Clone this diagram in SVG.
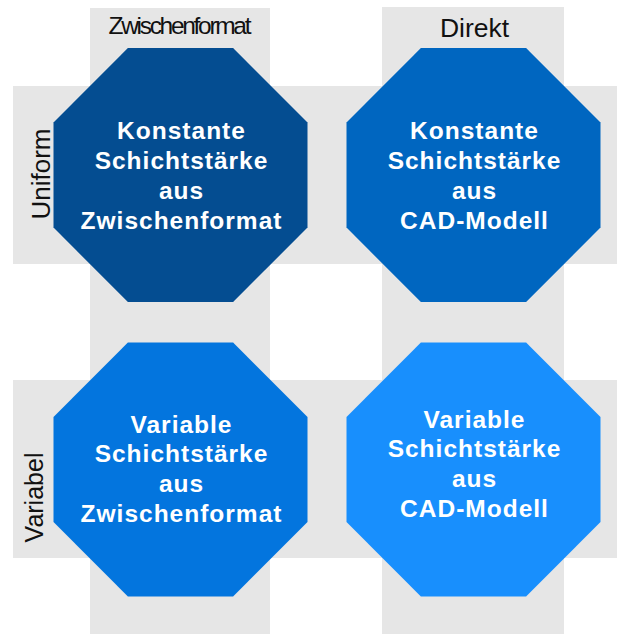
<svg xmlns="http://www.w3.org/2000/svg" width="617" height="634" viewBox="0 0 617 634">
<style>
.bg{fill:#e6e6e6}
.lbl{font-family:"Liberation Sans",Arial,sans-serif;fill:#111;text-anchor:middle}
.nt{font-family:"Liberation Sans",Arial,sans-serif;font-weight:bold;font-size:24.5px;letter-spacing:1px;fill:#fff;text-anchor:middle}
</style>
<defs>
<polygon id="oct" points="-52.6,-127 52.6,-127 127,-52.6 127,52.6 52.6,127 -52.6,127 -127,52.6 -127,-52.6"/>
</defs>
<g id="background">
<rect class="bg" x="90" y="8" width="180" height="626"/>
<rect class="bg" x="382" y="7" width="182" height="627"/>
<rect class="bg" x="13" y="86" width="604" height="178"/>
<rect class="bg" x="13" y="380" width="604" height="178"/>
</g>
<g id="labels">
<text class="lbl" x="180" y="34" font-size="24.5" textLength="143" lengthAdjust="spacing">Zwischenformat</text>
<text class="lbl" x="474.5" y="36.5" font-size="26.5">Direkt</text>
<text class="lbl" font-size="26" transform="translate(49.5,174) rotate(-90)">Uniform</text>
<text class="lbl" font-size="25" transform="translate(42.5,497.5) rotate(-90)">Variabel</text>
</g>
<g id="connectors"></g>
<g id="n1">
<use href="#oct" x="180.5" y="175" fill="#044d91"/>
<text class="nt" x="181.5" y="138.5">Konstante</text>
<text class="nt" x="181.5" y="169">Schichtstärke</text>
<text class="nt" x="181.5" y="198.5">aus</text>
<text class="nt" x="181.5" y="228.5">Zwischenformat</text>
</g>
<g id="n2">
<use href="#oct" x="473.5" y="175" fill="#0066c0"/>
<text class="nt" x="474.5" y="138.5">Konstante</text>
<text class="nt" x="474.5" y="169">Schichtstärke</text>
<text class="nt" x="474.5" y="198.5">aus</text>
<text class="nt" x="474.5" y="228.5">CAD-Modell</text>
</g>
<g id="n3">
<use href="#oct" x="180.5" y="469.5" fill="#0375de"/>
<text class="nt" x="181.5" y="432.5">Variable</text>
<text class="nt" x="181.5" y="462.3">Schichtstärke</text>
<text class="nt" x="181.5" y="492">aus</text>
<text class="nt" x="181.5" y="521.7">Zwischenformat</text>
</g>
<g id="n4">
<use href="#oct" x="473.5" y="469.5" fill="#188ffd"/>
<text class="nt" x="474.5" y="427.5">Variable</text>
<text class="nt" x="474.5" y="457.2">Schichtstärke</text>
<text class="nt" x="474.5" y="487">aus</text>
<text class="nt" x="474.5" y="516.7">CAD-Modell</text>
</g>
</svg>
